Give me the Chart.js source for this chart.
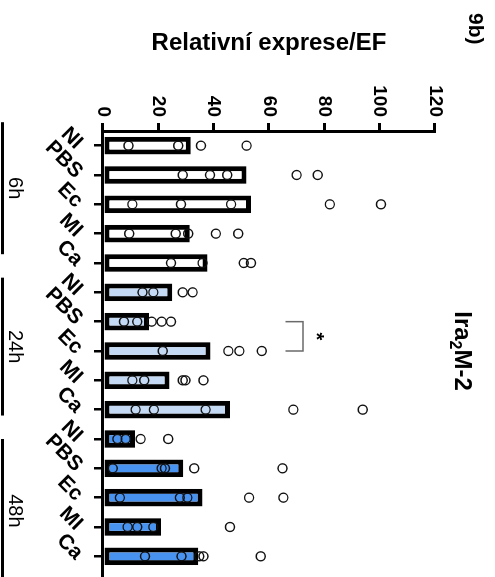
<!DOCTYPE html>
<html>
<head>
<meta charset="utf-8">
<script src="https://cdn.jsdelivr.net/npm/chart.js@4.4.1/dist/chart.umd.min.js"></script>
<style>
  html, body { margin: 0; padding: 0; background: #fff; }
  #frame { position: relative; width: 495px; height: 577px; overflow: hidden; }
  /* the figure is drawn upright and then turned a quarter clockwise, like the scan */
  #turn { position: absolute; left: 0; top: 0; width: 577px; height: 495px;
          transform-origin: 0 0; transform: translate(495px, 0) rotate(90deg); }
</style>
</head>
<body>
<div id="frame"><div id="turn"><canvas id="chart" width="577" height="495"></canvas></div></div>
<script>
const categories = ['NI', 'PBS', 'Ec', 'MI', 'Ca', 'NI', 'PBS', 'Ec', 'MI', 'Ca', 'NI', 'PBS', 'Ec', 'MI', 'Ca'];
const groups = ['6h', '24h', '48h'];

// bar heights (means)
const means6h = [31.7, 51.9, 53.5, 31.4, 37.8];
const means24h = [25.0, 16.6, 38.9, 24.0, 45.9];
const means48h = [11.6, 29.0, 36.0, 21.0, 34.4];

// single values (open circles), one list per category
const points6h = [
  [9.2, 27.2, 35.4, 51.9],
  [28.8, 38.7, 44.9, 70, 77.6],
  [10.6, 28.2, 46.3, 82, 100.5],
  [9.5, 26.3, 30.8, 40.8, 48.9],
  [24.6, 36, 50.9, 53.5],
];
const points24h = [
  [14.3, 18.2, 28.8, 32.4],
  [7.6, 12.4, 17.6, 21.2, 24.6],
  [21.6, 45.3, 49.3, 57.4],
  [10.6, 14.9, 28.8, 29.8, 36.3],
  [11.8, 18.4, 37.1, 68.8, 93.9],
];
const points48h = [
  [5.2, 8.2, 13.6, 23.6],
  [3.5, 21.2, 22.4, 33, 64.9],
  [6.1, 27.8, 30.5, 52.8, 65.2],
  [8.9, 12.4, 18.2, 45.9],
  [15.2, 28.4, 34.8, 36.3, 57],
];

const yTicks = [0, 20, 40, 60, 80, 100, 120];

const FONT = "'Liberation Sans', Arial, sans-serif";
const groupColors = ['#ffffff', '#c4daf4', '#4893f0'];

const means = [...means6h, ...means24h, ...means48h];
const allPoints = [...points6h, ...points24h, ...points48h];
const barColors = categories.map((c, i) => groupColors[Math.floor(i / 5)]);

const dotSets = [];
for (let k = 0; k < 5; k++) {
  dotSets.push({
    type: 'line',
    data: allPoints.map(p => (p[k] === undefined ? null : p[k])),
    showLine: false,
    pointRadius: 4.5,
    pointBorderWidth: 1.4,
    pointBorderColor: '#111',
    pointBackgroundColor: 'rgba(0,0,0,0)',
    order: 0,
  });
}

// group bars under the axis, in category units
const groupSpans = [[-0.8, 3.7], [4.5, 9.2], [10.0, 14.9]];

const extras = {
  id: 'extras',
  afterDraw(chart) {
    const { ctx, chartArea: a, scales: { x, y } } = chart;
    ctx.save();
    ctx.fillStyle = '#000';
    ctx.strokeStyle = '#000';

    // value axis title
    ctx.save();
    ctx.translate(50, (a.top + a.bottom) / 2);
    ctx.rotate(-Math.PI / 2);
    ctx.font = 'bold 24px ' + FONT;
    ctx.textAlign = 'center';
    ctx.textBaseline = 'alphabetic';
    ctx.fillText('Relativní exprese/EF', 0, 0);
    ctx.restore();

    // chart title Ira2M-2
    ctx.textBaseline = 'alphabetic';
    ctx.textAlign = 'left';
    const big = 'bold 24px ' + FONT, small = 'bold 16px ' + FONT;
    ctx.font = big; const w1 = ctx.measureText('Ira').width; const w3 = ctx.measureText('M-2').width;
    ctx.font = small; const w2 = ctx.measureText('2').width;
    let tx = (a.left + a.right) / 2 - (w1 + w2 + w3) / 2;
    ctx.font = big; ctx.fillText('Ira', tx, 40); tx += w1;
    ctx.font = small; ctx.fillText('2', tx, 45); tx += w2;
    ctx.font = big; ctx.fillText('M-2', tx, 40);

    // panel label
    ctx.font = 'bold 21px ' + FONT;
    ctx.fillText('9b)', 13, 26);

    // time groups
    ctx.lineWidth = 3;
    ctx.font = '20px ' + FONT;
    ctx.textAlign = 'center';
    groups.forEach((g, i) => {
      const x0 = x.getPixelForValue(groupSpans[i][0]);
      const x1 = x.getPixelForValue(groupSpans[i][1]);
      ctx.beginPath();
      ctx.moveTo(x0, 492.5);
      ctx.lineTo(x1, 492.5);
      ctx.stroke();
      ctx.fillText(g, (x0 + x1) / 2, 486);
    });

    // category axis runs on to the edge of the scan
    ctx.lineWidth = 3;
    ctx.beginPath();
    ctx.moveTo(a.right, a.bottom + 0.5);
    ctx.lineTo(chart.width, a.bottom + 0.5);
    ctx.stroke();

    // significance bracket 24h PBS vs Ec
    const p = x.getPixelForValue(6), q = x.getPixelForValue(7);
    ctx.strokeStyle = '#6a6a6a';
    ctx.lineWidth = 1.5;
    ctx.beginPath();
    ctx.moveTo(p, y.getPixelForValue(66));
    ctx.lineTo(p, y.getPixelForValue(72.3));
    ctx.lineTo(q, y.getPixelForValue(72.3));
    ctx.lineTo(q, y.getPixelForValue(66));
    ctx.stroke();
    ctx.font = 'bold 20px ' + FONT;
    ctx.fillText('*', (p + q) / 2, y.getPixelForValue(79) + 11.6);
    ctx.restore();
  }
};

new Chart(document.getElementById('chart'), {
  type: 'bar',
  data: {
    labels: categories,
    datasets: [
      {
        data: means,
        backgroundColor: barColors,
        borderColor: '#000',
        borderWidth: 5,
        borderSkipped: false,
        barPercentage: 0.6,
        categoryPercentage: 1,
        order: 1,
      },
      ...dotSets,
    ],
  },
  options: {
    responsive: false,
    animation: false,
    layout: { padding: { left: 0, top: 60, right: 6, bottom: 0 } },
    plugins: { legend: { display: false }, tooltip: { enabled: false } },
    scales: {
      x: {
        type: 'category',
        offset: true,
        afterFit(s) { s.height = 103; s.paddingLeft = 0; s.paddingRight = 0; },
        grid: { offset: false, drawOnChartArea: false, drawTicks: true, tickLength: 9, color: '#000', lineWidth: 2.5 },
        border: { display: true, color: '#000', width: 3 },
        ticks: {
          autoSkip: false, maxRotation: 45, minRotation: 45, padding: 6,
          color: '#000', font: { family: FONT, size: 21, weight: 'bold' },
        },
      },
      y: {
        min: 0, max: 120,
        afterFit(s) { s.width = 131; },
        afterBuildTicks(s) { s.ticks = yTicks.map(v => ({ value: v })); },
        grid: { drawOnChartArea: false, drawTicks: true, tickLength: 8, color: '#000', lineWidth: 3 },
        border: { display: true, color: '#000', width: 3 },
        ticks: { padding: 6, color: '#000', font: { family: FONT, size: 19, weight: 'bold' } },
      },
    },
  },
  plugins: [extras],
});
</script>
</body>
</html>
